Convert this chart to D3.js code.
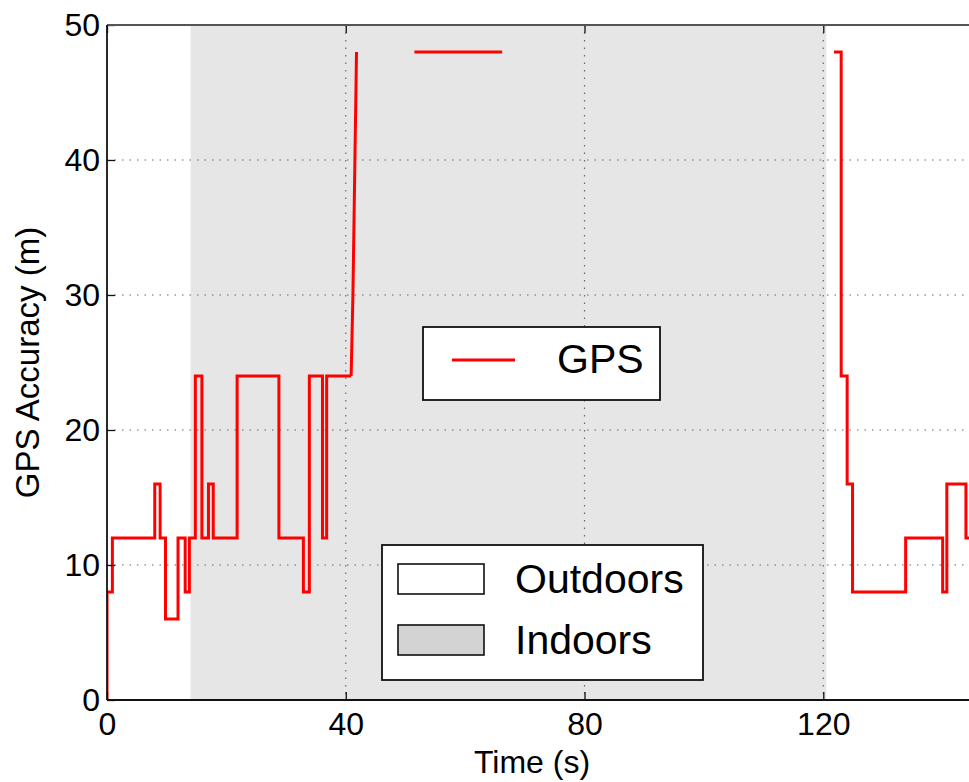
<!DOCTYPE html>
<html>
<head>
<meta charset="utf-8">
<script src="https://cdn.jsdelivr.net/npm/d3@7"></script>
<style>
  html, body { margin: 0; padding: 0; background: #fff; }
  svg text { font-family: "Liberation Sans", Arial, Helvetica, sans-serif; fill: #000; }
</style>
</head>
<body>
<svg id="chart" width="969" height="782"></svg>
<script>
// GPS accuracy readings while walking outdoors -> indoors -> outdoors.
// Step samples: each value holds until the next sample time.
const walkInTimes  = [0, 0, 0.9, 8.0, 8.9, 9.8, 11.9, 13.1, 13.8, 14.8, 15.9, 17.0, 17.8, 21.8, 28.8, 32.9, 33.9, 36.1, 36.8, 40.9];
const walkInValues = [0, 8, 12, 16, 12, 6, 12, 8, 12, 24, 12, 16, 12, 24, 12, 8, 24, 12, 24, 24];
// Accuracy estimate degrading as the fix is lost
const lossTimes  = [40.9, 41.2, 41.8];
const lossValues = [24, 30, 48];
// Isolated indoor report
const indoorTimes  = [51.5, 66.2];
const indoorValues = [48, 48];
// Fix regained after leaving the building
const walkOutTimes  = [121.8, 123.0, 124.0, 124.9, 133.8, 140.0, 140.7, 143.9, 145];
const walkOutValues = [48, 24, 16, 8, 12, 8, 16, 12, 12];

// Indoor interval (seconds)
const indoorStart = 14;
const indoorEnd = 120.5;

const xTicks = [0, 40, 80, 120];
const yTicks = [0, 10, 20, 30, 40, 50];
const legendSeries = ["GPS"];
const legendAreas = ["Outdoors", "Indoors"];

const svg = d3.select("#chart");
const plotLeft = 107, plotTop = 25, plotBottom = 700;
const x = d3.scaleLinear().domain([0, 145]).range([plotLeft, plotLeft + 145 * 5.969]);
const y = d3.scaleLinear().domain([0, 50]).range([plotBottom, plotTop]);
const plotRight = x(145);

svg.append("defs").append("clipPath").attr("id", "plotClip")
  .append("rect").attr("x", plotLeft).attr("y", plotTop - 2)
  .attr("width", plotRight - plotLeft).attr("height", plotBottom - plotTop + 2);

// Indoor shading
svg.append("rect")
  .attr("x", x(indoorStart)).attr("y", y(50))
  .attr("width", x(indoorEnd) - x(indoorStart)).attr("height", y(0) - y(50))
  .attr("fill", "#e6e6e6");

// Dotted grid
const grid = svg.append("g").attr("stroke", "#666").attr("stroke-width", 1.2)
  .attr("stroke-dasharray", "1.5,6");
grid.selectAll("line.h").data(yTicks.filter(d => d > 0 && d < 50)).join("line")
  .attr("class", "h")
  .attr("x1", plotLeft).attr("x2", plotRight).attr("y1", d => y(d)).attr("y2", d => y(d));
grid.selectAll("line.v").data(xTicks.filter(d => d > 0)).join("line")
  .attr("class", "v")
  .attr("y1", plotTop).attr("y2", plotBottom).attr("x1", d => x(d)).attr("x2", d => x(d));

// GPS trace
const plot = svg.append("g").attr("clip-path", "url(#plotClip)");
const stepLine = d3.line().x(d => x(d[0])).y(d => y(d[1])).curve(d3.curveStepAfter);
const straightLine = d3.line().x(d => x(d[0])).y(d => y(d[1]));
const zip = (a, b) => a.map((t, i) => [t, b[i]]);
const traceStyle = sel => sel.attr("fill", "none").attr("stroke", "#ff0000")
  .attr("stroke-width", 3).attr("stroke-linejoin", "miter");

plot.append("path").attr("d", stepLine(zip(walkInTimes, walkInValues))).call(traceStyle);
plot.append("path").attr("d", straightLine(zip(lossTimes, lossValues))).call(traceStyle);
plot.append("path").attr("d", straightLine(zip(indoorTimes, indoorValues))).call(traceStyle);
plot.append("path").attr("d", stepLine(zip(walkOutTimes, walkOutValues))).call(traceStyle);

// Axes (ticks point inward)
const xAxis = svg.append("g").attr("transform", `translate(0,${plotBottom})`)
  .call(d3.axisBottom(x).tickValues(xTicks).tickSize(-8).tickPadding(12).tickFormat(d3.format("d")));
const xAxisTop = svg.append("g").attr("transform", `translate(0,${plotTop})`)
  .call(d3.axisTop(x).tickValues(xTicks).tickSize(-8).tickFormat(""));
const yAxis = svg.append("g").attr("transform", `translate(${plotLeft},0)`)
  .call(d3.axisLeft(y).tickValues(yTicks).tickSize(-8).tickPadding(7).tickFormat(d3.format("d")));
[xAxis, xAxisTop, yAxis].forEach(g => {
  g.select(".domain").remove();
  g.selectAll(".tick line").attr("stroke", "#111").attr("stroke-width", 1.3);
  g.selectAll(".tick text").style("font-size", "32px").attr("fill", "#000");
});

// Spines
svg.append("g").attr("stroke", "#111").attr("stroke-width", 1.8).attr("fill", "none")
  .call(g => {
    g.append("line").attr("x1", plotLeft).attr("x2", plotRight).attr("y1", plotBottom).attr("y2", plotBottom);
    g.append("line").attr("x1", plotLeft).attr("x2", plotRight).attr("y1", plotTop).attr("y2", plotTop).attr("stroke", "#555");
    g.append("line").attr("x1", plotLeft).attr("x2", plotLeft).attr("y1", plotTop).attr("y2", plotBottom);
  });

// Axis titles
svg.append("text").attr("x", 532).attr("y", 773).attr("text-anchor", "middle")
  .style("font-size", "32px").text("Time (s)");
svg.append("text").attr("transform", `translate(39,${(plotTop + plotBottom) / 2}) rotate(-90)`)
  .attr("text-anchor", "middle").style("font-size", "33px").text("GPS Accuracy (m)");

// Series legend
const lg1 = svg.append("g");
lg1.append("rect").attr("x", 423).attr("y", 327).attr("width", 237).attr("height", 73)
  .attr("fill", "#fff").attr("stroke", "#111").attr("stroke-width", 1.8);
lg1.selectAll("line").data(legendSeries).join("line")
  .attr("x1", 452).attr("x2", 515).attr("y1", 360).attr("y2", 360)
  .attr("stroke", "#ff0000").attr("stroke-width", 3);
lg1.selectAll("text").data(legendSeries).join("text")
  .attr("x", 557).attr("y", 373).style("font-size", "41px").text(d => d);

// Area legend
const areaFill = { Outdoors: "#ffffff", Indoors: "#d3d3d3" };
const lg2 = svg.append("g");
lg2.append("rect").attr("x", 382).attr("y", 545).attr("width", 321).attr("height", 135)
  .attr("fill", "#fff").attr("stroke", "#111").attr("stroke-width", 1.8);
const items = lg2.selectAll("g.item").data(legendAreas).join("g")
  .attr("class", "item")
  .attr("transform", (d, i) => `translate(0,${i * 61})`);
items.append("rect").attr("x", 398).attr("y", 564).attr("width", 86).attr("height", 30)
  .attr("fill", d => areaFill[d]).attr("stroke", "#111").attr("stroke-width", 1.6);
items.append("text").attr("x", 515).attr("y", 593).style("font-size", "41px").text(d => d);
</script>
</body>
</html>
